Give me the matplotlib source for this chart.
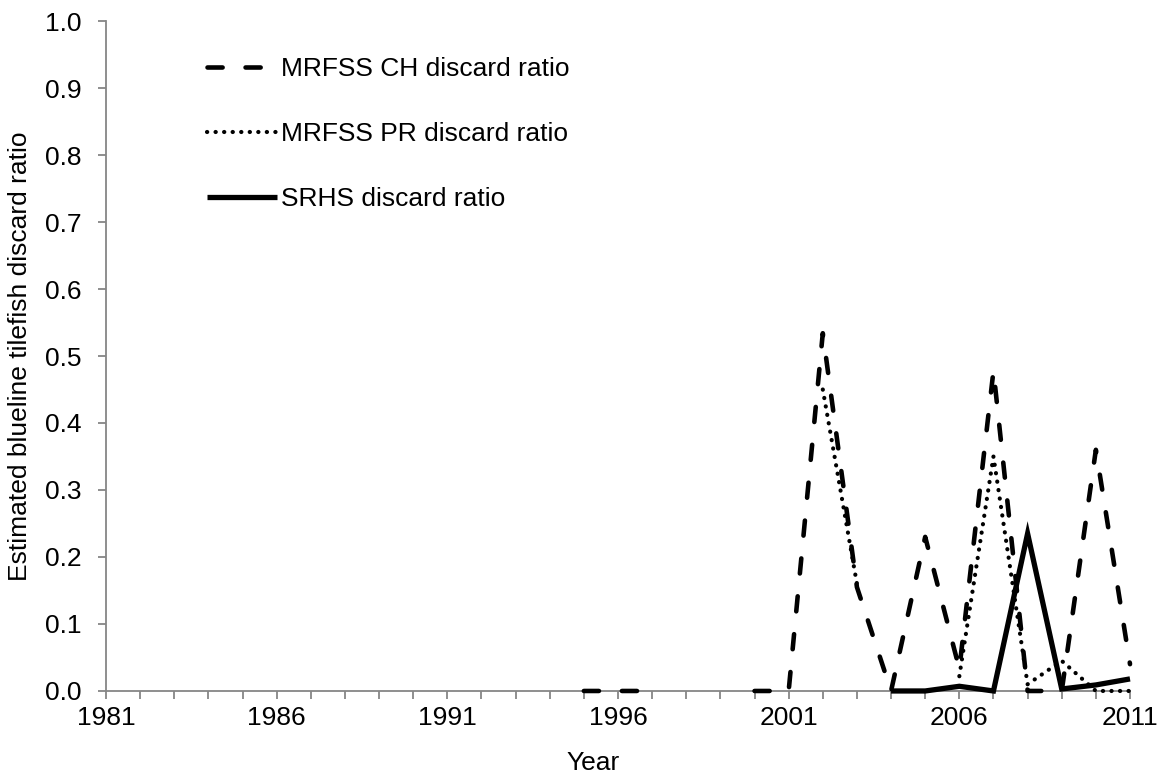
import numpy as np
import matplotlib
matplotlib.use("Agg")
import matplotlib.pyplot as plt

nan = np.nan
years = list(range(1981, 2012))

# values by year (1981..2011); nan = no estimate
ch_vals = [nan] * 14 + [0.0, 0.0, 0.0, nan, nan, 0.0, 0.0,
                        0.534, 0.155, 0.0, 0.23, 0.033, 0.478, 0.0, 0.0, 0.36, 0.04]
pr_vals = [nan] * 21 + [0.45, 0.16, nan, nan, 0.022, 0.35, 0.01, 0.045, 0.0, 0.0]
srhs_vals = [nan] * 23 + [0.0, 0.0, 0.007, 0.0, 0.235, 0.003, 0.009, 0.018]

labels = ["MRFSS CH discard ratio", "MRFSS PR discard ratio", "SRHS discard ratio"]

GRAY = "#868686"
plt.rcParams["font.family"] = ["Liberation Sans", "DejaVu Sans"]
FS = 19

fig = plt.figure(figsize=(11.67, 7.82), dpi=100)
ax = fig.add_axes([0.0908, 0.1164, 0.8775, 0.8567])

ax.plot(years, ch_vals, color="black", lw=3.3, dashes=(3.3, 5.0),
        dash_capstyle="round", label=labels[0], clip_on=False, zorder=5)
ax.plot(years, pr_vals, color="black", lw=3.0, dashes=(0.05, 2.0),
        dash_capstyle="round", label=labels[1], clip_on=False, zorder=5)
ax.plot(years, srhs_vals, color="black", lw=3.8, solid_capstyle="butt",
        solid_joinstyle="miter", label=labels[2], clip_on=False, zorder=5)

ax.set_xlim(1981, 2011)
ax.set_ylim(0, 1.0)
ax.set_xticks(years)
ax.set_xticklabels([str(y) if (y - 1981) % 5 == 0 else "" for y in years])
ax.set_yticks(np.arange(0, 1.01, 0.1))
ax.set_yticklabels([f"{v:.1f}" for v in np.arange(0, 1.01, 0.1)])

for s in ["top", "right"]:
    ax.spines[s].set_visible(False)
for s in ["left", "bottom"]:
    ax.spines[s].set_color(GRAY)
    ax.spines[s].set_linewidth(1.3)
    ax.spines[s].set_zorder(1)
ax.tick_params(axis="both", direction="out", length=5.8, width=1.3,
               color=GRAY, labelsize=FS, labelcolor="black")
ax.tick_params(axis="y", pad=12)
ax.tick_params(axis="x", pad=5)

ax.set_xlabel("Year", fontsize=FS)
ax.xaxis.set_label_coords(0.476, -0.089)
ax.set_ylabel("Estimated blueline tilefish discard ratio", fontsize=FS)
ax.yaxis.set_label_coords(-0.072, 0.5)

ax.legend(loc="upper left", bbox_to_anchor=(0.088, 0.962), frameon=False,
          fontsize=FS, handlelength=2.65, handletextpad=0.15, labelspacing=1.55,
          borderaxespad=0)

fig.savefig("out.png", dpi=100)
